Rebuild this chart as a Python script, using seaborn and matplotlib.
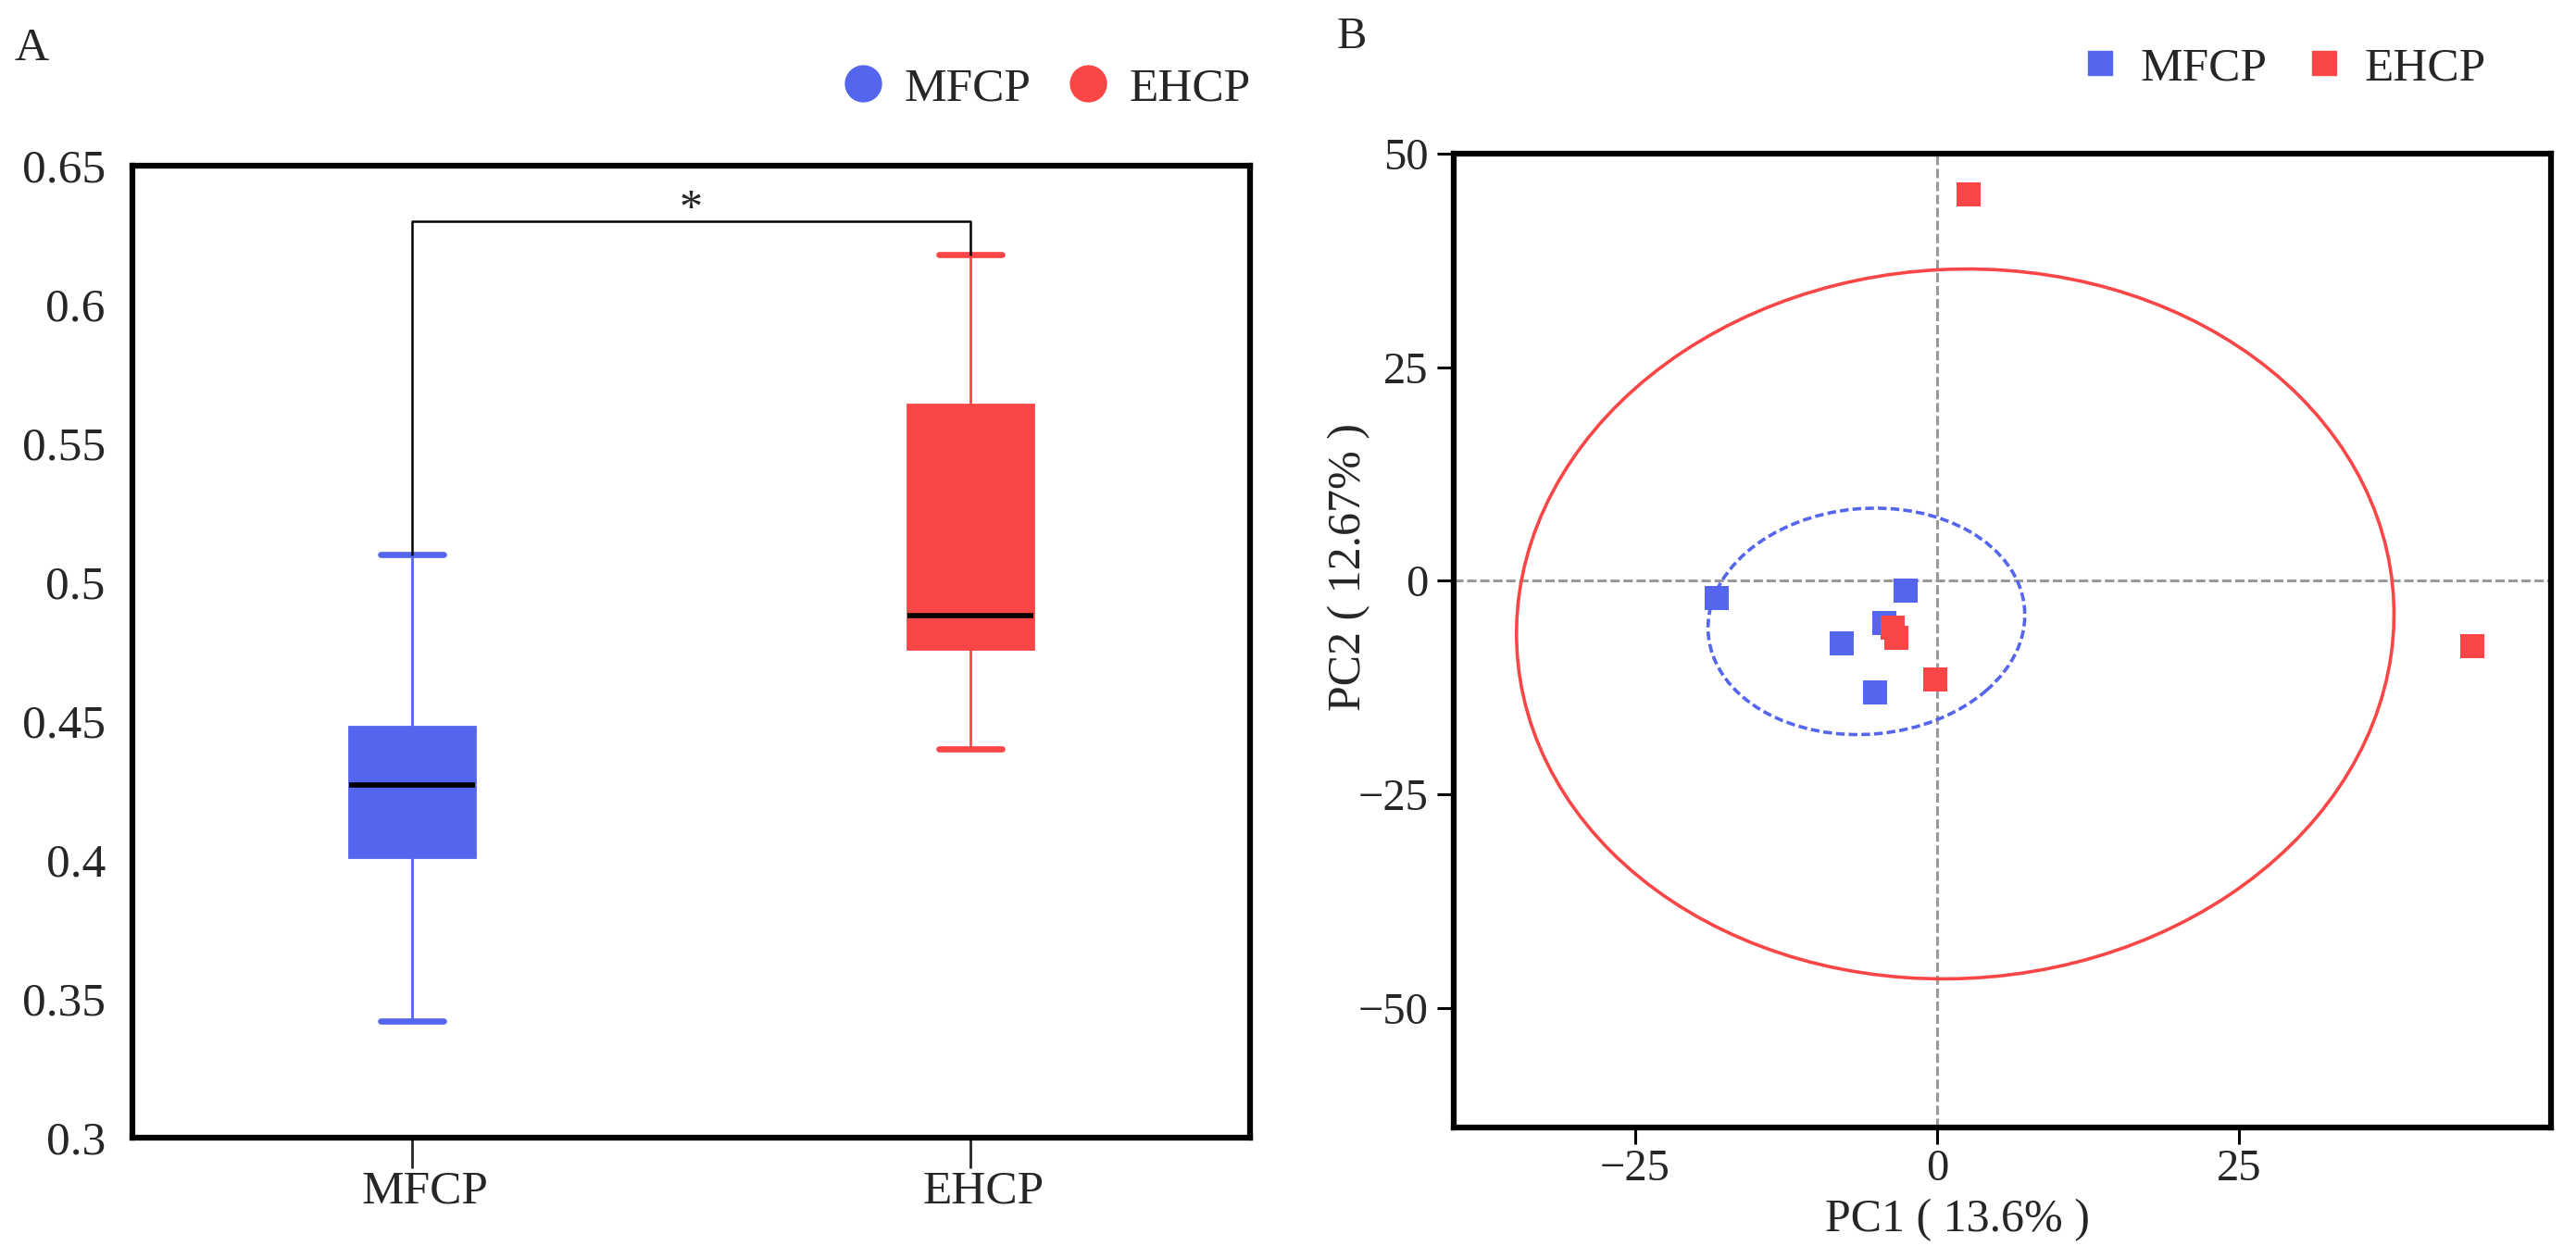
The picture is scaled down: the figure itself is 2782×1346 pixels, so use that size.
import numpy as np
import pandas as pd
import seaborn as sns
import matplotlib.pyplot as plt
from matplotlib.patches import Ellipse
from matplotlib.lines import Line2D
from matplotlib.transforms import ScaledTranslation

groups = ["MFCP", "EHCP"]
colors = ["#5465EE", "#FA4646"]

# panel A - five samples per group
mfcp_vals = [0.342, 0.401, 0.427, 0.448, 0.510]
ehcp_vals = [0.440, 0.476, 0.488, 0.564, 0.618]
a_ticks = [0.3, 0.35, 0.4, 0.45, 0.5, 0.55, 0.6, 0.65]
a_ticklabels = ["0.3", "0.35", "0.4", "0.45", "0.5", "0.55", "0.6", "0.65"]
bracket_y = 0.63
sig_label = "*"

# panel B - PCA scores
pc1_mfcp = [-18.25, -2.62, -4.38, -7.9, -5.13]
pc2_mfcp = [-2.0, -1.2, -4.9, -7.3, -13.1]
pc1_ehcp = [2.62, 44.26, -0.15, -3.65, -3.38]
pc2_ehcp = [45.2, -7.7, -11.6, -5.5, -6.7]
# ellipses (MFCP, EHCP)
ell_x = [-5.85, 1.5]
ell_y = [-4.75, -5.05]
ell_w = [27.1, 72.5]
ell_h = [25.6, 83.2]
ell_angle = [50.7, -5.75]
b_xticks = [-25, 0, 25]
b_yticks = [-50, -25, 0, 25, 50]
pc1_label = "PC1 ( 13.6% )"
pc2_label = "PC2 ( 12.67% )"

sns.set_style("ticks")
plt.rcParams["font.family"] = ["Liberation Serif", "DejaVu Serif"]
plt.rcParams["axes.linewidth"] = 4.5

fig = plt.figure(figsize=(27.82, 13.46), dpi=100)
axA = fig.add_axes([143 / 2782, 117 / 1346, 1207 / 2782, 1050 / 1346])
axB = fig.add_axes([1570 / 2782, 128 / 1346, 1185 / 2782, 1052 / 1346])

# ---- A: boxplot ----
df_a = pd.DataFrame({"group": np.repeat(groups, 5), "value": mfcp_vals + ehcp_vals})
for g, c in zip(groups, colors):
    sns.boxplot(data=df_a[df_a["group"] == g], x="group", y="value", order=groups,
                color=c, linecolor=c, saturation=1, width=0.225, whis=(0, 100),
                linewidth=2, showfliers=False,
                medianprops=dict(color="black", linewidth=4),
                capprops=dict(linewidth=4.8), ax=axA)

axA.plot([0, 0, 1, 1], [max(mfcp_vals), bracket_y, bracket_y, max(ehcp_vals)],
         color="black", lw=1.8)
axA.text(0.5, bracket_y, sig_label, ha="center", va="baseline", fontsize=36)

axA.set_xlim(-0.5, 1.5)
axA.set_ylim(0.3, 0.65)
axA.set_yticks(a_ticks)
axA.set_yticklabels(a_ticklabels)
axA.set_xlabel("")
axA.set_ylabel("")
axA.tick_params(axis="x", length=24, width=2, pad=1, labelsize=37)
axA.tick_params(axis="y", length=0, pad=21, labelsize=37)
for lab in axA.get_xticklabels():
    lab.set_transform(lab.get_transform() + ScaledTranslation(0.14, 0, fig.dpi_scale_trans))
for sp in axA.spines.values():
    sp.set_visible(True)
    sp.set_linewidth(4.5)
    sp.set_color("black")

handles_a = [Line2D([], [], marker="o", linestyle="", markersize=28,
                    markerfacecolor=c, markeredgecolor=c) for c in colors]
fig.legend(handles_a, groups, loc="center left", bbox_to_anchor=(911 / 2782, 1 - 96 / 1346),
           ncol=2, frameon=False, fontsize=37, handlelength=0.8, handletextpad=0.47,
           columnspacing=0.8, borderpad=0, borderaxespad=0)

# ---- B: PCA ----
df_b = pd.DataFrame({
    "pc1": pc1_mfcp + pc1_ehcp,
    "pc2": pc2_mfcp + pc2_ehcp,
    "group": np.repeat(groups, 5),
})
axB.axhline(0, color="#999999", lw=2.2, dashes=(3.3, 1.3), zorder=1)
axB.axvline(0, color="#999999", lw=2.2, dashes=(3.3, 1.3), zorder=1)
styles = [(0, (2.6, 1.2)), "-"]
for i, c in enumerate(colors):
    e = Ellipse((ell_x[i], ell_y[i]), ell_w[i], ell_h[i], angle=ell_angle[i],
                fill=False, edgecolor=c, lw=2.6, linestyle=styles[i], zorder=2)
    axB.add_patch(e)
sns.scatterplot(data=df_b, x="pc1", y="pc2", hue="group", palette=colors, marker="s",
                s=350, linewidth=0, legend=False, ax=axB, zorder=3)

axB.set_xlim(-40, 50.8)
axB.set_ylim(-64, 50)
axB.set_xticks(b_xticks)
axB.set_yticks(b_yticks)
axB.tick_params(axis="both", length=13, width=2.2, labelsize=35, color="black")
axB.tick_params(axis="x", pad=3.5)
axB.tick_params(axis="y", pad=7)
axB.set_xlabel(pc1_label, fontsize=36)
axB.set_ylabel(pc2_label, fontsize=36)
axB.xaxis.set_label_coords(0.459, -0.073)
axB.yaxis.set_label_coords(-0.076, 0.576)
for sp in axB.spines.values():
    sp.set_visible(True)
    sp.set_linewidth(4.5)
    sp.set_color("black")

handles_b = [Line2D([], [], marker="s", linestyle="", markersize=19,
                    markerfacecolor=c, markeredgecolor=c) for c in colors]
fig.legend(handles_b, groups, loc="center left", bbox_to_anchor=(2247 / 2782, 1 - 74 / 1346),
           ncol=2, frameon=False, fontsize=37, handlelength=0.8, handletextpad=0.46,
           columnspacing=0.79, borderpad=0, borderaxespad=0)

fig.text(15 / 2782, 1 - 65 / 1346, "A", fontsize=37, va="baseline", ha="left")
fig.text(1444 / 2782, 1 - 52 / 1346, "B", fontsize=35, va="baseline", ha="left")

fig.savefig("out.png", dpi=100, facecolor="white")
